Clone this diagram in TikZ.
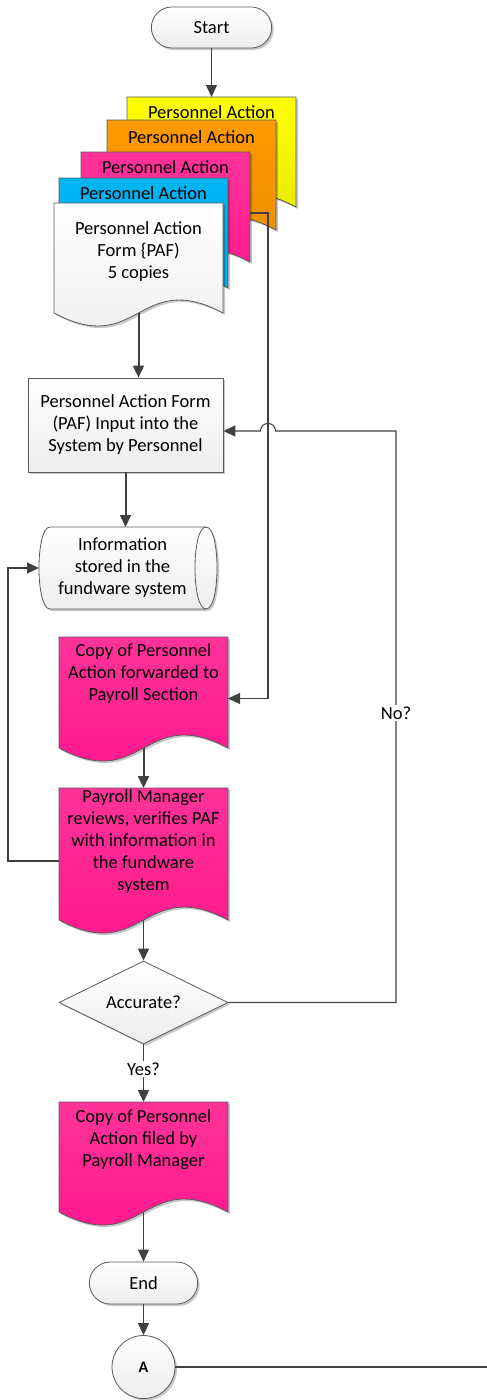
\documentclass[tikz,border=0pt]{standalone}
\usepackage{fontspec}
\setmainfont{Carlito}
\usepackage{tikz}
\usetikzlibrary{arrows.meta,positioning,shapes.geometric,shapes.misc,shadows}
\definecolor{pafYellow}{HTML}{FFFF00}
\definecolor{pafYellowDk}{HTML}{E4E400}
\definecolor{pafOrange}{HTML}{FF9A00}
\definecolor{pafOrangeDk}{HTML}{E68A00}
\definecolor{pafPink}{HTML}{FF3399}
\definecolor{pafPinkDk}{HTML}{FF148C}
\definecolor{pafBlue}{HTML}{00B4F2}
\definecolor{pafBlueDk}{HTML}{00A0E0}
\definecolor{lineGray}{HTML}{404040}
\definecolor{borderGray}{HTML}{5A5A5A}
% document shape with wavy bottom: name, left, top, height, fill, text offset, text
\newcommand{\paperdoc}[7]{%
  \begin{scope}[shift={(#2,#3)}]
    \path[docline,#5] (0,0) -- (169,0) -- (169,#4)
      .. controls (84.5,#4-45) and (84.5,#4+45) .. (0,#4) -- cycle;
    \node[docarea,minimum height=#4] (#1) at (84.5,#4/2) {};
    \node[doctext] (#1text) at (84.5,#6) {#7};
  \end{scope}}

\begin{document}
\begin{tikzpicture}[x=1pt,y=-1pt, font=\fontsize{18.5}{22}\selectfont,
  >={Triangle[length=12pt,width=11pt]},
  softshadow/.style={drop shadow={shadow xshift=2pt,shadow yshift=-2pt,opacity=.22,fill=black}},
  plain/.style={draw=borderGray,line width=0.8pt,top color=white,bottom color=gray!14,softshadow},
  docline/.style={draw=borderGray,line width=0.8pt,softshadow},
  docarea/.style={rectangle,minimum width=169,inner sep=0pt,outer sep=0pt},
  doctext/.style={align=center,inner sep=0pt},
  terminal/.style={rounded rectangle,plain},
  link/.style={draw=lineGray,line width=1.1pt},
  heavy/.style={draw=lineGray,line width=2pt},
  flag/.style={fill=white,inner sep=1.5pt}]
  \useasboundingbox (0,0) rectangle (487,1400);
% --- start and the stack of copies ---
  \node[terminal,minimum width=127,minimum height=41] (start) at (211.5,27.5) {Start};
  \paperdoc{yellowdoc}{127}{97}{110}{top color=pafYellow,bottom color=pafYellowDk}{15}{Personnel Action}
  \paperdoc{orangedoc}{107}{120}{110}{top color=pafOrange,bottom color=pafOrangeDk}{17}{Personnel Action}
  \paperdoc{pinkdoc}{81}{152}{110}{top color=pafPink,bottom color=pafPinkDk}{15}{Personnel Action}
  \paperdoc{bluedoc}{59}{178}{110}{top color=pafBlue,bottom color=pafBlueDk}{15}{Personnel Action}
  \paperdoc{whitedoc}{54}{203}{110}{top color=white,bottom color=gray!14}{49}{Personnel Action\\Form \{PAF)\\5 copies}
% --- main column ---
  \node[rectangle,plain,minimum width=195,minimum height=94,align=center] (pafbox) at (125.5,425)
    {Personnel Action Form\\(PAF) Input into the\\System by Personnel};
  % stored data drum
  \path[plain] (50,527) -- (206,527) .. controls (220.7,527) and (220.7,609) .. (206,609)
    -- (50,609) .. controls (35.3,609) and (35.3,527) .. (50,527) -- cycle;
  \draw[draw=borderGray,line width=0.8pt] (206,527) .. controls (191.3,527) and (191.3,609) .. (206,609);
  \node[rectangle,minimum width=167,minimum height=82,inner sep=0pt,outer sep=0pt,align=center] (storage) at (122.5,568)
    {Information\\stored in the\\fundware system};
  \paperdoc{copydoc}{59}{637}{111}{top color=pafPink,bottom color=pafPinkDk}{37}{Copy of Personnel\\Action forwarded to\\Payroll Section}
  \paperdoc{mgrdoc}{59}{788}{132}{top color=pafPink,bottom color=pafPinkDk}{54}{Payroll Manager\\reviews, verifies PAF\\with information in\\the fundware\\system}
  \node[diamond,plain,aspect=2,minimum width=169,minimum height=83,inner sep=1pt] (accurate) at (143.5,1002.5) {Accurate?};
  \paperdoc{fileddoc}{59}{1102}{110}{top color=pafPink,bottom color=pafPinkDk}{38}{Copy of Personnel\\Action filed by\\Payroll Manager}
  \node[terminal,minimum width=115,minimum height=42] (endterm) at (143.5,1283) {End};
  \node[circle,plain,minimum size=63,font=\fontsize{16}{18}\selectfont\bfseries] (conA) at (143.5,1367) {A};
  \coordinate (offpage) at (487,1367);
% --- connectors ---
  \draw[link,->] (start.south) -- (yellowdoc.north);
  \draw[heavy,->] (whitedoc.south) -- (whitedoc.south |- pafbox.north);
  \draw[heavy,->] (pafbox.south) -- (pafbox.south |- storage.north);
  \draw[link,->] ([yshift=-6pt]pinkdoc.east) -- ++(18,0) |- ([yshift=-6pt]copydoc.east);
  \draw[heavy,->] (copydoc.south) -- (mgrdoc.north);
  \draw[link,->] ([yshift=-7pt]mgrdoc.west) -- ++(-51,0) |- (storage.west);
  \draw[link,->] (mgrdoc.south) -- (accurate.north);
  \draw[link,->] (accurate.east) -- (396,1002.5) -- (396,431) -- (275.5,431)
    .. controls (275.5,421) and (260.5,421) .. (260.5,431) -- ([yshift=-6pt]pafbox.east);
  \node[flag] (nolbl) at (396,713) {No?};
  \draw[link,->] (accurate.south) -- (fileddoc.north);
  \node[flag] (yeslbl) at (143.5,1069) {Yes?};
  \draw[link,->] (fileddoc.south) -- (endterm.north);
  \draw[link,->] (endterm.south) -- (conA.north);
  \draw[link] (conA.east) -- (offpage);
\end{tikzpicture}
\end{document}
